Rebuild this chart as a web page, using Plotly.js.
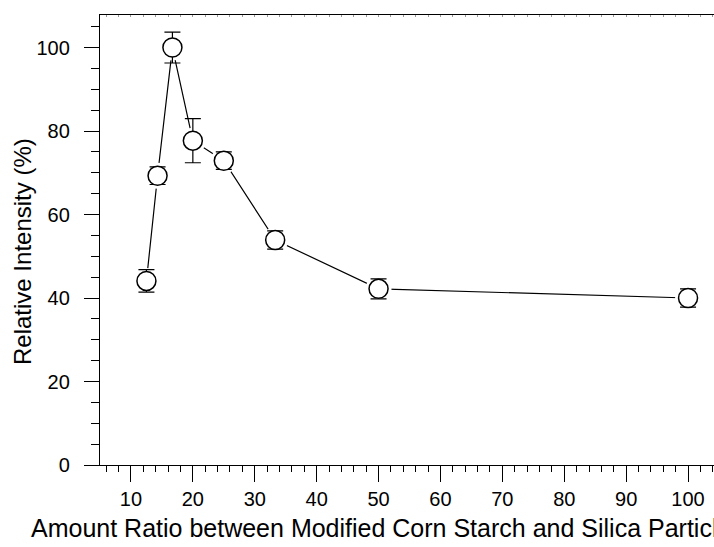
<!DOCTYPE html>
<html>
<head>
<meta charset="utf-8">
<script src="https://cdn.plot.ly/plotly-3.0.1.min.js"></script>
<style>
html,body{margin:0;padding:0;overflow:hidden;background:#fff;width:714px;height:547px;}
#chart{width:740px;height:547px;}
</style>
</head>
<body>
<div id="chart"></div>
<script>
// Data
const ratio = [12.5, 14.3, 16.7, 20, 25, 33.3, 50, 100];
const intensity = [44.1, 69.3, 100, 77.7, 72.9, 53.9, 42.2, 40.0];
const errorValues = [2.7, 2.1, 3.7, 5.3, 2.1, 2.2, 2.4, 2.2];
const xTickVals = [10, 20, 30, 40, 50, 60, 70, 80, 90, 100];
const yTickVals = [0, 20, 40, 60, 80, 100];
const xTitle = "Amount Ratio between Modified Corn Starch and Silica Particles";
const yTitle = "Relative Intensity (%)";

const FONT = "Liberation Sans, Arial, Helvetica, sans-serif";

const lineTrace = {
  x: ratio, y: intensity, type: "scatter", mode: "lines",
  line: {color: "black", width: 1.2}, hoverinfo: "skip", showlegend: false
};
const haloTrace = {
  x: ratio, y: intensity, type: "scatter", mode: "markers",
  marker: {symbol: "circle", size: 26, color: "white", line: {width: 0}},
  hoverinfo: "skip", showlegend: false
};
const markerTrace = {
  x: ratio, y: intensity, type: "scatter", mode: "markers",
  marker: {symbol: "circle", size: 19, color: "white", line: {color: "black", width: 1.5}},
  error_y: {type: "data", array: errorValues, visible: true, color: "black", thickness: 1.2, width: 8},
  showlegend: false
};
// invisible trace on the top axis so it is drawn
const topTrace = {
  x: [ratio[0]], y: [intensity[0]], xaxis: "x2", type: "scatter", mode: "markers",
  marker: {opacity: 0}, hoverinfo: "skip", showlegend: false
};

const layout = {
  width: 740, height: 547,
  margin: {l: 100, r: 21, t: 15, b: 82},
  paper_bgcolor: "white", plot_bgcolor: "white",
  font: {family: FONT, color: "black", size: 20},
  showlegend: false,
  xaxis: {
    range: [5, 105], tickvals: xTickVals, ticks: "outside", ticklen: 16, tickwidth: 1,
    tickcolor: "black", showline: true, linecolor: "black", linewidth: 1.2,
    showgrid: false, zeroline: false, ticklabelstandoff: 0,
    tickfont: {size: 20, family: FONT},
    minor: {dtick: 2, tick0: 0, ticks: "outside", ticklen: 6, tickcolor: "black", showgrid: false}
  },
  xaxis2: {
    overlaying: "x", side: "top", anchor: "y", range: [5, 105],
    showticklabels: false, ticks: "inside", ticklen: 2, dtick: 2, tick0: 0,
    tickcolor: "#999", showline: true, linecolor: "black", linewidth: 1.2,
    showgrid: false, zeroline: false
  },
  yaxis: {
    range: [0, 107.8], tickvals: yTickVals, ticks: "outside", ticklen: 15, tickwidth: 1,
    tickcolor: "black", showline: true, linecolor: "black", linewidth: 1.2,
    showgrid: false, zeroline: false, ticklabelstandoff: 10,
    tickfont: {size: 20, family: FONT},
    minor: {dtick: 5, tick0: 0, ticks: "outside", ticklen: 8, tickcolor: "black", showgrid: false}
  },
  annotations: [
    {text: xTitle, xref: "paper", yref: "paper", x: -71/619, y: 0, xanchor: "left", yanchor: "top",
     yshift: -47, showarrow: false, font: {size: 25, family: FONT, color: "black"}},
    {text: yTitle, xref: "paper", yref: "paper", x: 0, y: 0.5, xanchor: "center", yanchor: "middle",
     xshift: -78, yshift: -12, textangle: -90, showarrow: false, font: {size: 24, family: FONT, color: "black"}}
  ]
};

Plotly.newPlot("chart", [lineTrace, haloTrace, markerTrace, topTrace], layout, {staticPlot: true, displayModeBar: false});
</script>
</body>
</html>
